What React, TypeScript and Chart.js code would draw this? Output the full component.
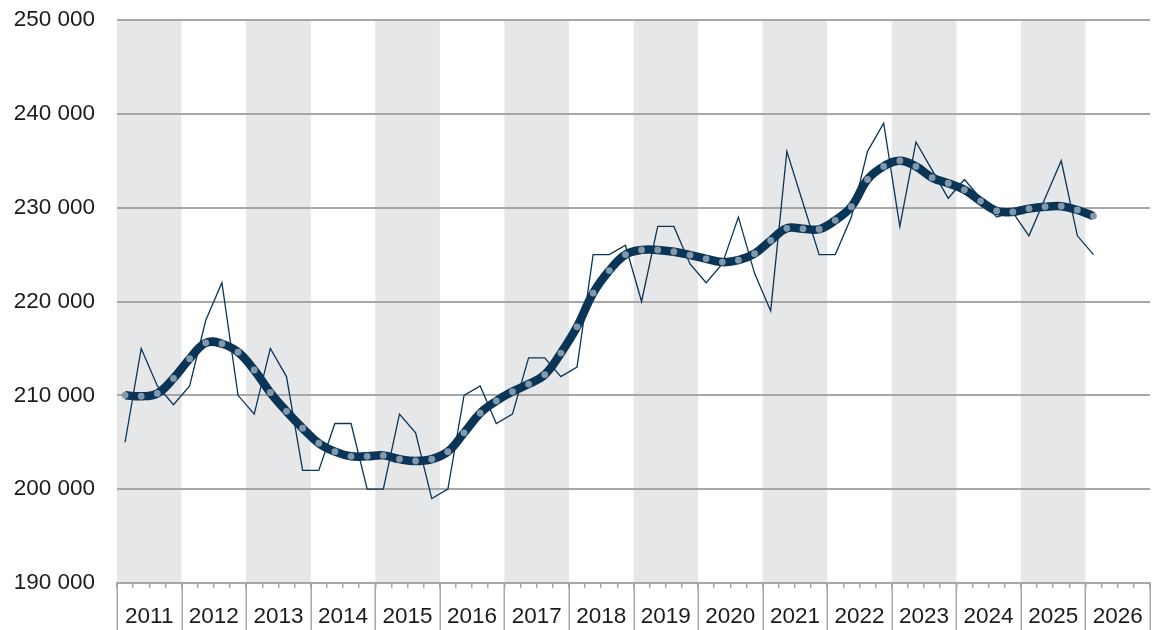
import React, { useEffect, useRef } from "react";
import { Chart, registerables } from "chart.js";

Chart.register(...registerables);

const years = ["2011", "2012", "2013", "2014", "2015", "2016", "2017", "2018", "2019", "2020", "2021", "2022", "2023", "2024", "2025", "2026"];

// quarterly values, 2011 Q1 .. 2026 Q1
const rawValues = [
  205000, 215000, 211000, 209000,
  211000, 218000, 222000, 210000,
  208000, 215000, 212000, 202000,
  202000, 207000, 207000, 200000,
  200000, 208000, 206000, 199000,
  200000, 210000, 211000, 207000,
  208000, 214000, 214000, 212000,
  213000, 225000, 225000, 226000,
  220000, 228000, 228000, 224000,
  222000, 224000, 229000, 223000,
  219000, 236000, 230500, 225000,
  225000, 229000, 236000, 239000,
  228000, 237000, 234000, 231000,
  233000, 231000, 229000, 229500,
  227000, 231000, 235000, 227000,
  225000,
];

const trendValues = [
  210000, 209900, 210200, 211800,
  213900, 215600, 215500, 214600,
  212700, 210300, 208300, 206500,
  204900, 204000, 203500, 203500,
  203600, 203200, 203000, 203200,
  204000, 206000, 208100, 209400,
  210400, 211200, 212200, 214500,
  217300, 220900, 223300, 225000,
  225500, 225500, 225300, 224950,
  224550, 224200, 224400, 225100,
  226500, 227800, 227750, 227700,
  228650, 230100, 233000, 234400,
  235000, 234400, 233200, 232600,
  231900, 230700, 229650, 229550,
  229900, 230100, 230150, 229750,
  229100,
];

const yTicks = [190000, 200000, 210000, 220000, 230000, 240000, 250000];

const GRID = "#a7a7a7";
const BAND = "#e6e7e9";
const NAVY = "#0b3557";
const DOT = "#8398aa";
const TEXT = "#1b1b1b";
const FONT = "'Liberation Sans', Arial, sans-serif";

const fmt = (v: number) => {
  const s = Math.round(v).toString();
  return s.replace(/\B(?=(\d{3})+(?!\d))/g, " ");
};

const bandsPlugin = {
  id: "bands",
  beforeDraw(chart: any) {
    const { ctx, chartArea } = chart;
    const x = chart.scales.x;
    ctx.save();
    ctx.fillStyle = BAND;
    for (let k = 0; k < years.length; k += 2) {
      const x0 = x.getPixelForValue(k * 4);
      const x1 = x.getPixelForValue(k * 4 + 4);
      ctx.fillRect(x0, chartArea.top, x1 - x0, chartArea.bottom - chartArea.top);
    }
    ctx.restore();
  },
  afterDraw(chart: any) {
    const { ctx, chartArea } = chart;
    const x = chart.scales.x;
    ctx.save();
    ctx.strokeStyle = GRID;
    ctx.lineWidth = 1.5;
    for (let k = 0; k <= years.length; k++) {
      const px = Math.round(x.getPixelForValue(k * 4)) + 0.25;
      ctx.beginPath();
      ctx.moveTo(px, chartArea.bottom);
      ctx.lineTo(px, chart.height);
      ctx.stroke();
    }
    ctx.restore();
  },
};

export default function App() {
  const ref = useRef<HTMLCanvasElement>(null);
  useEffect(() => {
    if (!ref.current) return;
    const trendPts = trendValues.map((v, i) => ({ x: i + 0.5, y: v }));
    const rawPts = rawValues.map((v, i) => ({ x: i + 0.5, y: v }));
    const chart = new Chart(ref.current, {
      type: "line",
      data: {
        datasets: [
          {
            label: "Trend",
            data: trendPts,
            borderColor: NAVY,
            borderWidth: 8.5,
            tension: 0.4,
            pointRadius: 3.4,
            pointBackgroundColor: DOT,
            pointBorderWidth: 0,
            fill: false,
          },
          {
            label: "Raw",
            data: rawPts,
            borderColor: NAVY,
            borderWidth: 1.3,
            tension: 0,
            pointRadius: 0,
            fill: false,
          },
        ],
      },
      options: {
        animation: false,
        responsive: false,
        maintainAspectRatio: false,
        layout: { padding: { top: 20, left: 0, right: 0, bottom: 0 } },
        plugins: { legend: { display: false }, tooltip: { enabled: false } },
        scales: {
          x: {
            type: "linear",
            min: 0,
            max: 64,
            afterFit: (s: any) => {
              s.height = 47;
              s.paddingLeft = 0;
              s.paddingRight = 0;
            },
            afterBuildTicks: (s: any) => {
              const t = [];
              for (let i = 0; i <= 64; i++) t.push({ value: i });
              s.ticks = t;
            },
            ticks: {
              autoSkip: false,
              maxRotation: 0,
              minRotation: 0,
              padding: 15,
              color: TEXT,
              font: { family: FONT, size: 22.5 },
              callback: (v: any) => {
                const n = Number(v);
                return n % 4 === 2 ? years[(n - 2) / 4] : "";
              },
            },
            grid: {
              drawOnChartArea: false,
              drawTicks: true,
              tickLength: 5,
              color: GRID,
              lineWidth: 1.5,
            },
            border: { display: true, color: GRID, width: 2 },
          },
          y: {
            min: 190000,
            max: 250000,
            afterFit: (s: any) => {
              s.width = 117;
              s.paddingTop = 0;
              s.paddingBottom = 0;
            },
            afterBuildTicks: (s: any) => {
              s.ticks = yTicks.map((v) => ({ value: v }));
            },
            ticks: {
              padding: 22,
              color: TEXT,
              font: { family: FONT, size: 22.5 },
              callback: (v: any) => fmt(Number(v)),
            },
            grid: { color: GRID, lineWidth: 2, drawTicks: false },
            border: { display: false },
          },
        },
      },
      plugins: [bandsPlugin],
    });
    return () => chart.destroy();
  }, []);
  return (
    <div style={{ position: "fixed", left: 0, top: 0, width: 1154, height: 630, background: "#fff" }}>
      <canvas ref={ref} width={1154} height={630} style={{ width: 1154, height: 630, display: "block" }} />
    </div>
  );
}
